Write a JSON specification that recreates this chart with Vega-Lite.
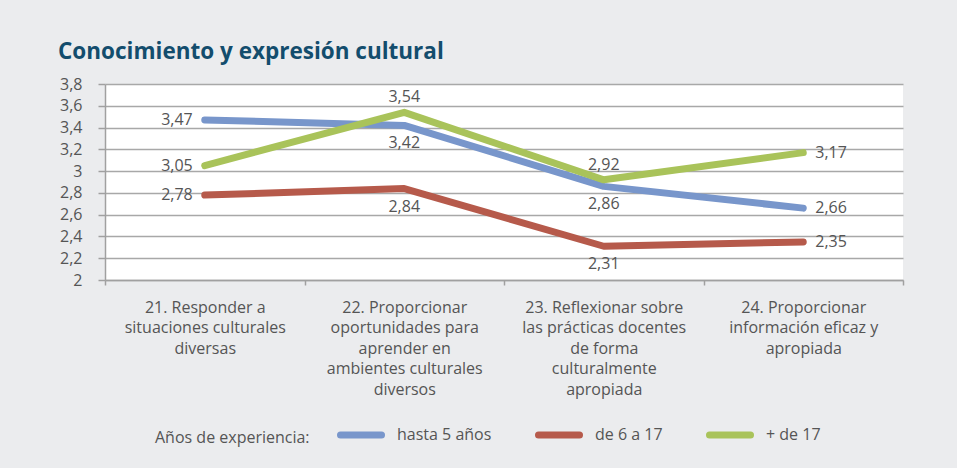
{
  "$schema": "https://vega.github.io/schema/vega-lite/v6.json",
  "width": 798,
  "height": 196,
  "autosize": {"type": "none"},
  "padding": {"left": 105, "top": 84, "right": 54, "bottom": 188},
  "background": "#ebecee",
  "config": {
    "view": {"fill": "#ffffff", "stroke": null},
    "font": "Open Sans",
    "locale": {"number": {"decimal": ",", "thousands": ".", "grouping": [3], "currency": ["", " €"]}}
  },
  "title": {
    "text": "Conocimiento y expresión cultural",
    "anchor": "start",
    "frame": "group",
    "dx": -47,
    "dy": 21,
    "offset": 16,
    "baseline": "alphabetic",
    "font": "Open Sans",
    "fontSize": 22.5,
    "fontWeight": "bold",
    "color": "#134d6d"
  },
  "data": {
    "values": [
      {"pregunta": "21. Responder a|situaciones culturales|diversas", "orden": 21, "grupo": "hasta 5 años", "valor": 3.47},
      {"pregunta": "22. Proporcionar|oportunidades para|aprender en|ambientes culturales|diversos", "orden": 22, "grupo": "hasta 5 años", "valor": 3.42},
      {"pregunta": "23. Reflexionar sobre|las prácticas docentes|de forma|culturalmente|apropiada", "orden": 23, "grupo": "hasta 5 años", "valor": 2.86},
      {"pregunta": "24. Proporcionar|información eficaz y|apropiada", "orden": 24, "grupo": "hasta 5 años", "valor": 2.66},
      {"pregunta": "21. Responder a|situaciones culturales|diversas", "orden": 21, "grupo": "de 6 a 17", "valor": 2.78},
      {"pregunta": "22. Proporcionar|oportunidades para|aprender en|ambientes culturales|diversos", "orden": 22, "grupo": "de 6 a 17", "valor": 2.84},
      {"pregunta": "23. Reflexionar sobre|las prácticas docentes|de forma|culturalmente|apropiada", "orden": 23, "grupo": "de 6 a 17", "valor": 2.31},
      {"pregunta": "24. Proporcionar|información eficaz y|apropiada", "orden": 24, "grupo": "de 6 a 17", "valor": 2.35},
      {"pregunta": "21. Responder a|situaciones culturales|diversas", "orden": 21, "grupo": "+ de 17", "valor": 3.05},
      {"pregunta": "22. Proporcionar|oportunidades para|aprender en|ambientes culturales|diversos", "orden": 22, "grupo": "+ de 17", "valor": 3.54},
      {"pregunta": "23. Reflexionar sobre|las prácticas docentes|de forma|culturalmente|apropiada", "orden": 23, "grupo": "+ de 17", "valor": 2.92},
      {"pregunta": "24. Proporcionar|información eficaz y|apropiada", "orden": 24, "grupo": "+ de 17", "valor": 3.17}
    ]
  },
  "encoding": {
    "x": {
      "field": "pregunta",
      "type": "ordinal",
      "sort": {"field": "orden"},
      "scale": {"type": "band", "paddingInner": 0, "paddingOuter": 0},
      "axis": {
        "title": null,
        "labelAngle": 0,
        "labelExpr": "split(datum.label, '|')",
        "labelFont": "Open Sans",
        "labelFontSize": 16,
        "labelColor": "#555555",
        "labelLineHeight": 20.5,
        "labelPadding": 14,
        "labelBaseline": "top",
        "tickBand": "extent",
        "tickSize": 5,
        "tickColor": "#a0a0a0",
        "tickWidth": 1.5,
        "domainColor": "#a0a0a0",
        "domainWidth": 1.5,
        "grid": false,
        "labelLimit": 300
      }
    },
    "y": {
      "field": "valor",
      "type": "quantitative",
      "scale": {"domain": [2, 3.8], "nice": false, "zero": false},
      "axis": {
        "title": null,
        "values": [2, 2.2, 2.4, 2.6, 2.8, 3, 3.2, 3.4, 3.6, 3.8],
        "format": ".1~f",
        "labelFont": "Open Sans",
        "labelFontSize": 16,
        "labelColor": "#555555",
        "labelPadding": 16,
        "tickSize": 7,
        "tickColor": "#a0a0a0",
        "tickWidth": 1.5,
        "domainColor": "#a0a0a0",
        "domainWidth": 1.5,
        "grid": true,
        "gridColor": "#a8a8a8",
        "gridWidth": 1.5
      }
    }
  },
  "layer": [
    {
      "mark": {"type": "line", "strokeWidth": 7, "strokeCap": "round", "strokeJoin": "round"},
      "encoding": {
        "color": {
          "field": "grupo",
          "type": "nominal",
          "sort": ["hasta 5 años", "de 6 a 17", "+ de 17"],
          "scale": {"domain": ["hasta 5 años", "de 6 a 17", "+ de 17"], "range": ["#7896cb", "#b65a4b", "#a9c35a"]},
          "legend": {
            "title": "Años de experiencia:",
            "orient": "none",
            "legendX": 50,
            "legendY": 327,
            "direction": "horizontal",
            "titleOrient": "left",
            "titleAngle": 0,
            "titleBaseline": "top",
            "titleFont": "Open Sans",
            "titleFontSize": 16,
            "titleFontWeight": "normal",
            "titleColor": "#555555",
            "titlePadding": 27,
            "symbolType": "stroke",
            "symbolSize": 1681,
            "symbolStrokeWidth": 7,
            "labelFont": "Open Sans",
            "labelFontSize": 16,
            "labelColor": "#555555",
            "labelOffset": 12,
            "columnPadding": 32,
            "encode": {"symbols": {"update": {"strokeCap": {"value": "round"}}}}
          }
        }
      }
    },
    {
      "transform": [{"filter": "datum.orden == 21"}],
      "mark": {"type": "text", "align": "right", "baseline": "middle", "dx": -12, "font": "Open Sans", "fontSize": 16, "color": "#555555"},
      "encoding": {"text": {"field": "valor", "type": "quantitative", "format": ".2f"}}
    },
    {
      "transform": [{"filter": "datum.orden == 24"}],
      "mark": {"type": "text", "align": "left", "baseline": "middle", "dx": 12, "font": "Open Sans", "fontSize": 16, "color": "#555555"},
      "encoding": {"text": {"field": "valor", "type": "quantitative", "format": ".2f"}}
    },
    {
      "transform": [{"filter": "(datum.orden == 22 || datum.orden == 23) && datum.grupo == '+ de 17'"}],
      "mark": {"type": "text", "align": "center", "baseline": "middle", "dy": -15, "font": "Open Sans", "fontSize": 16, "color": "#555555"},
      "encoding": {"text": {"field": "valor", "type": "quantitative", "format": ".2f"}}
    },
    {
      "transform": [{"filter": "(datum.orden == 22 || datum.orden == 23) && datum.grupo != '+ de 17'"}],
      "mark": {"type": "text", "align": "center", "baseline": "middle", "dy": 18, "font": "Open Sans", "fontSize": 16, "color": "#555555"},
      "encoding": {"text": {"field": "valor", "type": "quantitative", "format": ".2f"}}
    }
  ]
}
